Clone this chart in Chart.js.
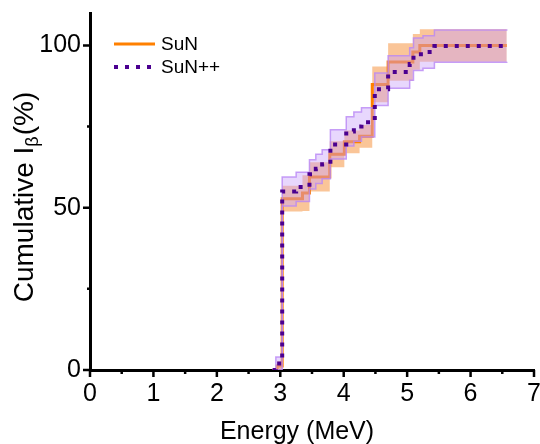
<!DOCTYPE html>
<html>
<head>
<meta charset="utf-8">
<script src="https://cdn.jsdelivr.net/npm/chart.js@4.4.1/dist/chart.umd.min.js"></script>
<style>
  html, body { margin: 0; padding: 0; background: #fff; }
  #wrap { width: 540px; height: 444px; }
</style>
</head>
<body>
<div id="wrap"><canvas id="cumChart" width="540" height="444"></canvas></div>
<script>
// step energies (MeV) and cumulative beta feeding (%)
const sunEnergy = [2.88, 2.95, 3.03, 3.35, 3.46, 3.78, 4.01, 4.25, 4.45, 4.70, 5.09, 5.20, 6.57];
const sunValue  = [0,    1.2,  52.8, 54.5, 59.5, 66.5, 70.3, 72.0, 88.0, 94.9, 98.0, 100,  100];
const sunError  = [0,    1.5,  4.0,  5.5,  4.5,  4.0,  3.5,  3.5,  5.5,  5.8,  5.5,  5.0,  5.0];

const sunppEnergy = [2.88, 2.93, 3.03, 3.25, 3.46, 3.56, 3.66, 3.79, 4.04, 4.16, 4.28, 4.49, 4.70, 5.04, 5.10, 5.25, 5.43, 6.57];
const sunppValue  = [0,    2.0,  55.0, 56.4, 60.3, 62.0, 63.4, 69.5, 73.5, 75.0, 76.3, 86.5, 91.8, 94.3, 97.3, 98.0, 99.8, 100];
const sunppError  = [0,    2.0,  4.5,  4.5,  4.5,  4.5,  4.5,  4.5,  4.5,  4.5,  4.5,  5.0,  5.0,  5.0,  5.0,  5.0,  5.0,  5.0];

const seriesNames = ['SuN', 'SuN++'];
const xTicks = [0, 1, 2, 3, 4, 5, 6, 7];
const yTicks = [0, 50, 100];

const ORANGE = '#ff8000';
const PURPLE = '#4b0090';
const FONT = '"Liberation Sans", Arial, sans-serif';

const pts = (e, v, d, s) => e.map((x, i) => ({ x: x, y: v[i] + s * (d ? d[i] : 0) }));

const datasets = [
    // drawn last -> on top
    { label: seriesNames[1], data: pts(sunppEnergy, sunppValue, null, 0), stepped: true,
      borderColor: PURPLE, borderWidth: 4, borderDash: [4, 7], borderCapStyle: 'butt',
      pointRadius: 0, fill: false, order: 0 },
    { label: 'ppLow', data: pts(sunppEnergy, sunppValue, sunppError, -1), stepped: true,
      borderColor: 'rgba(185,135,245,0.8)', borderWidth: 1.5, pointRadius: 0, fill: false, order: 1 },
    { label: 'ppHigh', data: pts(sunppEnergy, sunppValue, sunppError, 1), stepped: true,
      borderColor: 'rgba(185,135,245,0.8)', borderWidth: 1.5, pointRadius: 0,
      fill: '-1', backgroundColor: 'rgba(200,160,250,0.42)', order: 2 },
    { label: seriesNames[0], data: pts(sunEnergy, sunValue, null, 0), stepped: true,
      borderColor: ORANGE, borderWidth: 3, pointRadius: 0, fill: false, order: 3 },
    { label: 'sunLow', data: pts(sunEnergy, sunValue, sunError, -1), stepped: true,
      borderColor: 'rgba(0,0,0,0)', borderWidth: 0, pointRadius: 0, fill: false, order: 4 },
    { label: 'sunHigh', data: pts(sunEnergy, sunValue, sunError, 1), stepped: true,
      borderColor: 'rgba(0,0,0,0)', borderWidth: 0, pointRadius: 0,
      fill: '-1', backgroundColor: 'rgba(245,140,50,0.5)', order: 5 }
];

// tick marks, axis titles and the legend
const decor = {
    id: 'decor',
    afterDraw(chart) {
        const ctx = chart.ctx;
        const xs = chart.scales.x, ys = chart.scales.y;
        const area = chart.chartArea;
        ctx.save();
        ctx.strokeStyle = '#000';
        ctx.lineWidth = 2.5;
        ctx.beginPath();
        for (let v = 0; v <= 7; v += 0.5) {
            const px = xs.getPixelForValue(v);
            const len = Number.isInteger(v) ? 7 : 4;
            ctx.moveTo(px, area.bottom);
            ctx.lineTo(px, area.bottom + len);
        }
        for (let v = 0; v <= 100; v += 25) {
            const py = ys.getPixelForValue(v);
            const len = v % 50 === 0 ? 7 : 3;
            ctx.moveTo(area.left, py);
            ctx.lineTo(area.left - len, py);
        }
        ctx.stroke();

        ctx.fillStyle = '#000';
        // x title
        ctx.font = '25px ' + FONT;
        ctx.textAlign = 'center';
        ctx.textBaseline = 'alphabetic';
        ctx.fillText('Energy (MeV)', 297, 439);

        // y title with subscript beta
        const big = '28px ' + FONT, small = '18px ' + FONT;
        ctx.font = big;
        const w1 = ctx.measureText('Cumulative I').width;
        const w3 = ctx.measureText('(%)').width;
        ctx.font = small;
        const w2 = ctx.measureText('\u03b2').width + 1;
        const total = w1 + w2 + w3;
        ctx.translate(33, 197);
        ctx.rotate(-Math.PI / 2);
        ctx.textAlign = 'left';
        let u = -total / 2;
        ctx.font = big;
        ctx.fillText('Cumulative I', u, 0);
        u += w1;
        ctx.font = small;
        ctx.fillText('\u03b2', u, 5);
        u += w2;
        ctx.font = big;
        ctx.fillText('(%)', u, 0);
        ctx.restore();

        // legend
        ctx.save();
        ctx.font = '19px ' + FONT;
        ctx.fillStyle = '#000';
        ctx.textBaseline = 'middle';
        ctx.lineCap = 'butt';
        ctx.strokeStyle = ORANGE;
        ctx.lineWidth = 3;
        ctx.beginPath();
        ctx.moveTo(114, 44);
        ctx.lineTo(155, 44);
        ctx.stroke();
        ctx.fillText(seriesNames[0], 161, 45);
        ctx.strokeStyle = PURPLE;
        ctx.lineWidth = 4;
        ctx.setLineDash([4, 7]);
        ctx.beginPath();
        ctx.moveTo(114, 67);
        ctx.lineTo(155, 67);
        ctx.stroke();
        ctx.fillText(seriesNames[1], 161, 68);
        ctx.restore();
    }
};

new Chart(document.getElementById('cumChart'), {
    type: 'line',
    data: { datasets: datasets },
    options: {
        responsive: false,
        animation: false,
        devicePixelRatio: 1,
        layout: { padding: { top: 13, right: 6, left: 0, bottom: 0 } },
        plugins: { legend: { display: false }, tooltip: { enabled: false } },
        scales: {
            x: {
                type: 'linear', min: 0, max: 7,
                afterFit: (s) => { s.height = 74; s.paddingLeft = 0; s.paddingRight = 0; },
                afterBuildTicks: (s) => { s.ticks = xTicks.map(v => ({ value: v })); },
                grid: { display: false, drawTicks: false },
                border: { display: true, color: '#000', width: 3 },
                ticks: { color: '#000', font: { size: 25, family: FONT }, padding: 9, maxRotation: 0 }
            },
            y: {
                min: 0, max: 110,
                afterFit: (s) => { s.width = 90; s.paddingTop = 0; s.paddingBottom = 0; },
                afterBuildTicks: (s) => { s.ticks = yTicks.map(v => ({ value: v })); },
                grid: { display: false, drawTicks: false },
                border: { display: true, color: '#000', width: 3 },
                ticks: { color: '#000', font: { size: 25, family: FONT }, padding: 9 }
            }
        }
    },
    plugins: [decor]
});
</script>
</body>
</html>
